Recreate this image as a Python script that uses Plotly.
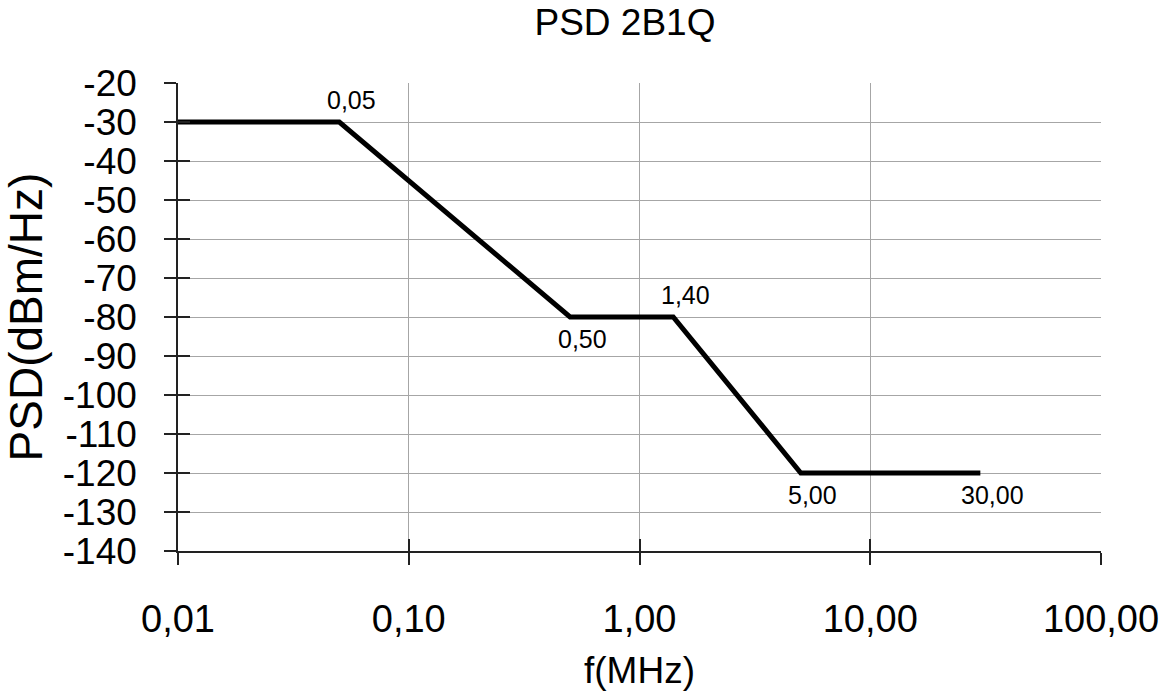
import numpy as np
import plotly.graph_objects as go

# Data
freq_mhz = [0.01, 0.05, 0.5, 1.4, 5.0, 30.0]
psd_dbm_hz = [-30, -30, -80, -80, -120, -120]
labelled_freqs = [0.05, 0.5, 1.4, 5.0, 30.0]
label_above = [True, False, True, False, False]
x_tick_vals = [0.01, 0.1, 1, 10, 100]
y_tick_vals = list(range(-140, -19, 10))

title_text = "PSD 2B1Q"
x_title = "f(MHz)"
y_title = "PSD(dBm/Hz)"

def fmt(v):
    return f"{v:.2f}".replace(".", ",")

FONT = "Liberation Sans, Arial, sans-serif"

fig = go.Figure()
fig.add_trace(go.Scatter(
    x=freq_mhz, y=psd_dbm_hz, mode="lines",
    line=dict(color="black", width=5),
    showlegend=False, hoverinfo="skip",
))
# invisible trace so overlay axes (inside half of cross ticks) render
fig.add_trace(go.Scatter(x=[None], y=[None], xaxis="x2", yaxis="y2",
                         mode="lines", showlegend=False, hoverinfo="skip"))

for f, above in zip(labelled_freqs, label_above):
    yv = psd_dbm_hz[freq_mhz.index(f)]
    fig.add_annotation(
        x=np.log10(f), y=yv, xref="x", yref="y", text=fmt(f),
        showarrow=False, xshift=12, yshift=22 if above else -22,
        font=dict(family=FONT, size=25, color="black"),
    )

axis_common = dict(
    showline=True, linecolor="#222", linewidth=1.5,
    ticks="outside", ticklen=12, tickwidth=1.5, tickcolor="#222",
    showgrid=True, gridcolor="#a6a6a6", gridwidth=1,
    zeroline=False, automargin=False,
)

fig.update_layout(
    width=1164, height=693,
    paper_bgcolor="white", plot_bgcolor="white",
    margin=dict(l=178, r=63, t=83, b=142),
    title=dict(text=title_text, x=625 / 1164, xanchor="center",
               y=1 - 22 / 693, yanchor="middle",
               font=dict(family=FONT, size=37, color="black")),
    xaxis=dict(
        type="log", range=[-2, 2],
        tickvals=x_tick_vals, ticktext=[fmt(v) for v in x_tick_vals],
        ticklabelstandoff=22,
        tickfont=dict(family=FONT, size=38, color="black"),
        title=dict(text=x_title, standoff=18,
                   font=dict(family=FONT, size=37, color="black")),
        **axis_common,
    ),
    yaxis=dict(
        range=[-140, -20],
        tickvals=y_tick_vals, ticktext=[str(v) for v in y_tick_vals],
        ticklabelstandoff=20,
        tickfont=dict(family=FONT, size=37, color="black"),
        title=dict(text=y_title, standoff=14,
                   font=dict(family=FONT, size=46, color="black")),
        **axis_common,
    ),
    xaxis2=dict(
        type="log", range=[-2, 2], overlaying="x", anchor="y2", side="bottom",
        tickvals=x_tick_vals, showticklabels=False,
        ticks="inside", ticklen=12, tickwidth=1.5, tickcolor="#222",
        showgrid=False, showline=False, zeroline=False, automargin=False,
    ),
    yaxis2=dict(
        range=[-140, -20], overlaying="y", anchor="x2", side="left",
        tickvals=y_tick_vals, showticklabels=False,
        ticks="inside", ticklen=12, tickwidth=1.5, tickcolor="#222",
        showgrid=False, showline=False, zeroline=False, automargin=False,
    ),
)

fig.write_html(
    "out.html",
    config={"displayModeBar": False},
    post_script="document.body.style.margin='0';document.body.style.overflow='hidden';",
)
